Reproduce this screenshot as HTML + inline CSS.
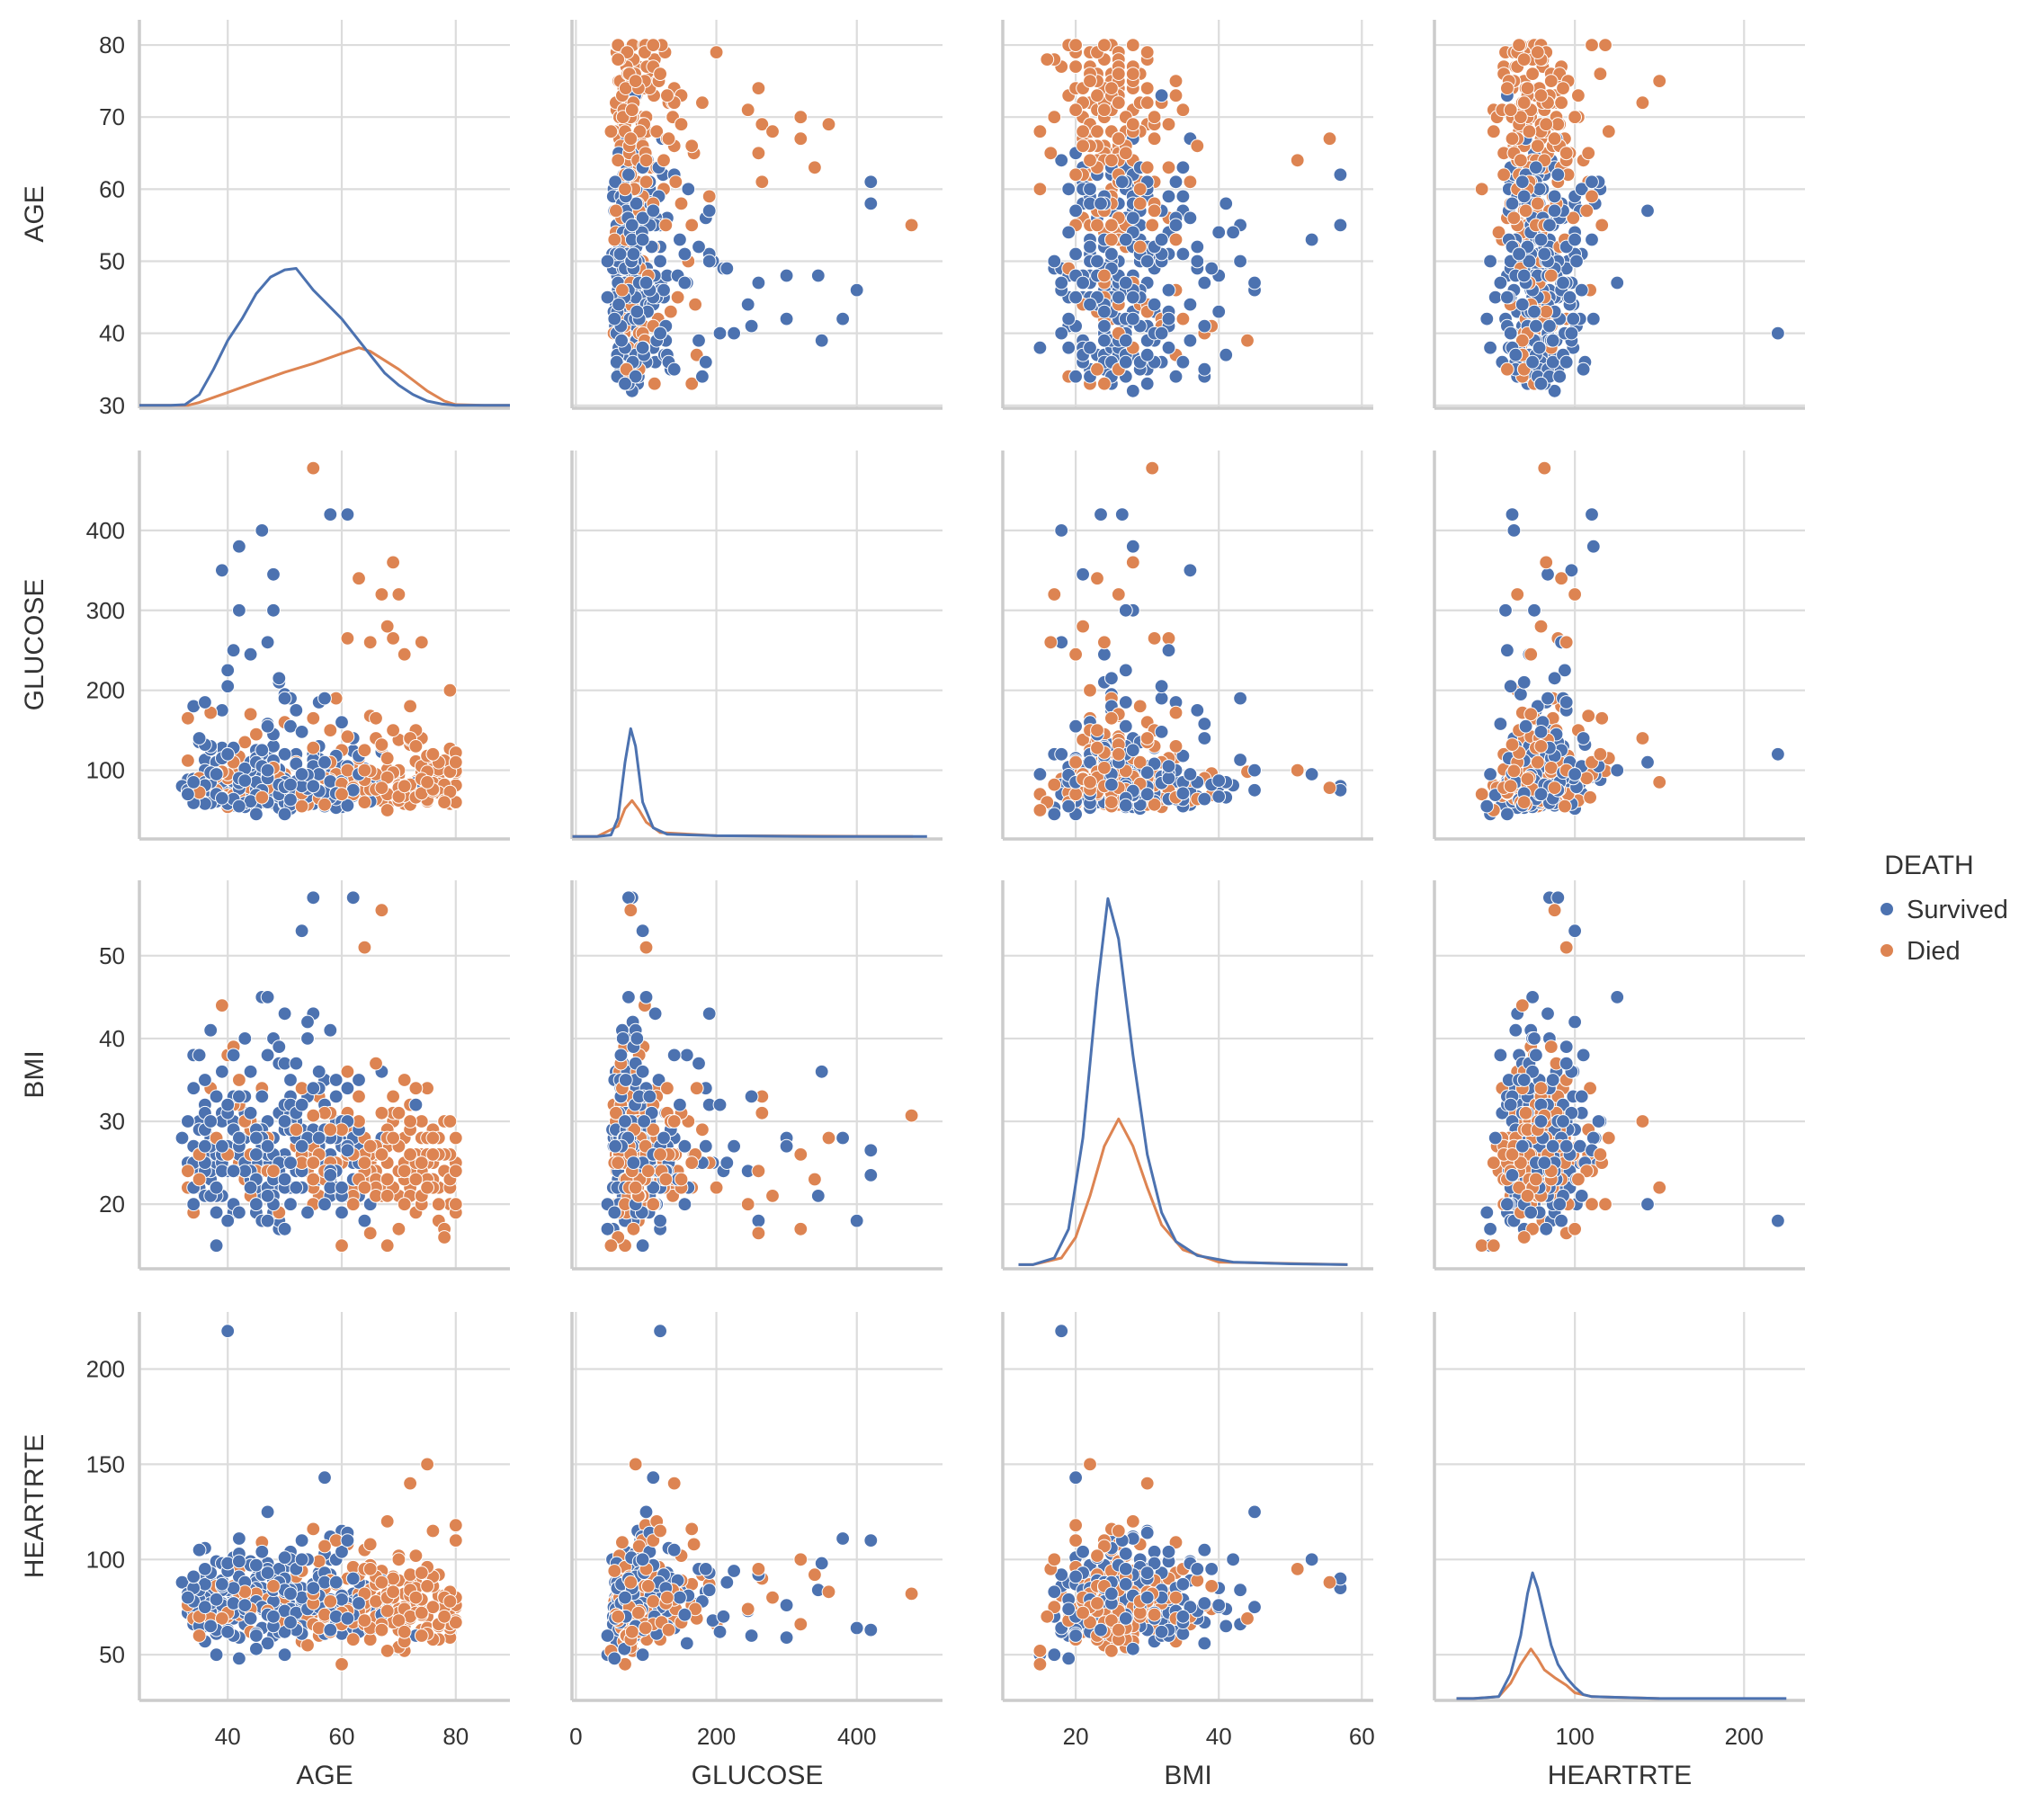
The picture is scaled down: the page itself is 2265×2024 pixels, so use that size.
<!DOCTYPE html>
<html><head><meta charset="utf-8"><style>
body{margin:0;background:#fff}
svg text{font-family:"Liberation Sans","DejaVu Sans",sans-serif;fill:#333}
</style></head><body>
<svg id="chart" width="2265" height="2019" xmlns="http://www.w3.org/2000/svg"></svg>
<script>
const variables=["AGE","GLUCOSE","BMI","HEARTRTE"];
const xDomains=[[24.5,89.5],[-5.6,522],[9.8,61.6],[17,236]];
const yDomains=[[29.6,83.5],[14,500],[12.2,59.1],[26,230]];
const yTicks=[[30,40,50,60,70,80],[100,200,300,400],[20,30,40,50],[50,100,150,200]];
const xTicks=[[40,60,80],[0,200,400],[20,40,60],[100,200]];
const legendLabels=["Survived","Died"];
const colors=["#4c72b0","#dd8452"];

const ageA=[45,52,38,61,70,48,55,42,66,73,36,50,59,44,77,63,40,53,68,47,
35,57,72,49,41,64,58,79,46,54,39,67,51,75,43,60,34,56,71,48,
62,37,53,69,45,78,50,41,65,58,36,74,47,55,44,61,80,52,39,66,
49,57,33,70,46,63,42,76,51,59,38,68,54,45,73,40,62,48,56,35,
67,50,43,71,58,37,64,53,47,79,41,60,55,34,69,46,52,75,44,63,
39,57,49,72,42,66,51,36,61,48,77,45,54,40,65,58,33,70,47,53,
62,38,56,74,44,50,68,41,59,46,80,52,37,64,55,43,71,49,60,35,
57,48,66,42,73,51,39,63,54,45,78,61,47,36,69,53,40,58,50,76,
44,62,38,55,72,48,65,41,57,52,34,67,46,60,74,43,56,50,70,39,
64,47,53,37,79,59,45,68,42,61,51,75,36,55,48,66,40,58,72,44,
63,50,35,69,54,46,77,41,60,52,38,65,49,57,73,43,62,47,56,80,
39,68,53,45,71,58,34,64,50,76,42,59,48,67,37,55,61,46,74,51,
55,58,61,40,55,62,67,64,53,75,33,36,72,57,65,80,47,35,76,70,38,60,45,78,50,68,42,73];
const ageB=[33,41,56,69,47,38,62,75,51,44,35,58,66,49,79,42,54,71,37,60,
46,34,63,52,77,40,57,68,45,36,73,50,61,43,80,55,39,65,48,70,
53,37,74,44,59,67,32,50,78,41,64,47,56,72,35,61,49,76,43,58,
36,69,51,42,66,55,80,39,47,62,34,71,57,45,68,40,53,75,50,63,
44,59,38,73,48,65,54,33,70,46,60,42,77,52,37,67,56,41,74,49,
61,35,57,45,79,50,64,38,53,71,43,58,47,66,36,72,55,40,62,48,
39,54,76,46,63,34,68,51,42,59,74,37,65,49,56,44,80,53,41,70,
52,43,60,35,67,48,57,72,40,55,64,38,50,78,45,62,33,69,47,58,
71,46,39,63,54,36,75,50,44,66,59,41,73,48,35,61,52,68,43,57,
48,62,37,55,70,42,65,51,79,45,34,60,56,47,72,39,64,53,44,67];
const glucoseA=[96,62,75,265,78,87,120,68,140,84,100,160,64,245,101,73,90,92,115,60,
86,75,180,70,110,95,66,200,108,79,350,123,155,63,95,88,72,185,81,300,
74,130,60,97,85,82,195,69,168,90,58,260,78,113,100,142,99,86,175,64,
210,80,165,62,400,118,77,120,73,190,92,115,67,145,84,225,70,104,88,76,
130,89,59,245,94,172,125,71,158,98,63,105,83,180,265,75,120,80,106,90,
66,190,91,79,300,165,57,132,87,345,72,125,81,95,61,150,112,78,260,96,
78,92,65,140,110,85,70,250,95,120,60,110,88,75,100,102,68,82,160,90,
72,130,95,84,66,190,98,340,77,115,62,105,93,85,150,80,58,88,120,74,
170,70,96,105,82,145,76,64,90,108,59,320,125,86,71,135,95,79,67,115,
88,155,55,85,73,118,69,280,90,100,63,98,81,165,112,76,205,86,138,61,
95,79,72,360,94,66,110,128,83,175,70,99,215,57,150,87,78,90,74,122,
65,91,148,110,80,110,85,60,190,76,380,71,103,132,97,128,56,105,89,82,
478,420,420,120,80,75,78,100,95,85,70,185,140,110,260,110,100,140,120,320,95,70,45,60,45,50,55,130];
const glucoseB=[88,56,95,68,121,80,72,61,84,104,75,66,91,83,58,117,70,78,96,65,
60,82,107,74,89,54,100,69,77,93,111,63,86,72,81,67,128,76,59,94,
85,66,98,57,119,71,80,95,62,87,102,68,75,132,64,90,53,109,73,79,
113,70,61,88,83,58,97,74,66,124,89,63,105,78,55,92,81,116,69,84,
77,99,60,86,110,65,94,72,138,80,54,91,83,71,126,62,97,76,68,101,
62,75,88,95,70,58,82,110,66,78,54,90,102,73,85,64,96,120,68,80,
76,57,84,99,115,63,92,71,87,60,105,74,81,67,130,93,59,77,86,100,
72,65,125,79,91,108,55,83,69,74,97,61,89,112,56,140,75,94,70,82,
58,103,66,85,78,92,118,60,77,88,53,96,71,84,135,67,80,101,63,87,
98,74,59,106,81,69,90,52,127,76,64,93,114,70,57,86,79,62,99,73];
const bmiA=[25,28,22,31,24,19,27,35,23,26,21,30,33,24,20,29,38,25,22,27,
26,23,29,18,32,25,41,22,27,24,36,28,20,26,23,30,19,34,25,28,
21,27,24,33,29,17,25,39,26,22,31,24,28,43,23,26,20,30,25,37,
24,29,22,27,18,35,26,23,30,25,21,28,40,24,32,27,23,19,26,29,
31,22,25,20,28,34,24,26,38,23,29,21,27,25,33,45,22,28,24,30,
26,32,19,24,27,22,29,25,36,21,28,23,42,26,20,31,24,27,18,25,
23,28,26,30,22,37,25,33,24,27,19,29,21,26,34,24,28,39,22,26,
29,24,21,27,25,32,44,23,28,20,26,30,24,35,22,27,31,25,17,28,
26,20,33,25,29,23,27,38,24,31,22,26,28,19,25,30,36,23,27,24,
22,27,25,41,30,24,28,21,33,26,35,23,29,25,20,27,32,24,26,31,
25,30,23,28,19,34,26,24,29,37,22,27,25,31,23,40,26,21,28,24,
27,23,32,26,24,29,20,25,43,22,28,35,24,26,30,23,27,33,21,25,
30.7,23.5,26.5,18,57,57,55.5,51,53,22,30,27,30,20,16.5,20,45,38,26,17,15,15,20,16,17,15,19,34];
const bmiB=[24,27,21,30,25,19,28,23,33,26,22,29,24,31,20,27,25,35,23,28,
26,22,29,24,18,32,25,27,21,30,23,26,34,24,28,20,31,25,22,27,
29,23,26,36,24,21,28,25,30,19,27,24,33,22,26,29,17,25,31,23,
25,28,22,32,24,27,20,30,26,23,38,25,28,21,29,24,26,34,22,27,
23,30,25,19,28,26,33,24,21,29,27,25,22,31,24,36,26,20,28,25,
27,24,31,22,26,29,18,25,34,23,28,21,30,26,24,32,22,27,25,40,
21,26,29,24,33,27,22,31,25,28,20,26,24,37,23,29,25,22,30,27,
28,25,22,30,26,24,35,21,27,29,23,26,32,24,19,28,25,31,22,26,
24,29,26,21,28,32,25,23,30,27,22,39,24,26,29,21,27,25,33,23,
26,22,28,25,31,24,20,29,26,23,34,25,27,22,30,24,28,26,21,36];
const heartrteA=[75,82,68,90,72,60,78,95,70,85,65,80,100,73,58,88,76,110,67,79,
84,70,92,62,77,105,74,66,81,55,98,71,87,64,78,115,69,83,52,76,
90,73,61,80,96,75,68,86,108,72,57,93,79,66,84,74,118,63,77,89,
70,85,76,102,64,79,91,58,73,87,67,120,75,82,60,94,71,78,99,65,
80,62,88,74,112,69,77,95,56,83,72,104,66,78,90,75,85,61,97,73,
76,93,68,81,59,87,74,106,70,84,65,78,100,72,63,89,80,54,92,77,
71,86,64,79,97,73,82,60,110,75,68,91,77,66,85,74,57,95,81,70,
88,65,78,103,72,84,69,92,76,61,80,114,73,87,67,79,98,62,83,75,
74,96,63,81,70,89,58,77,107,72,85,66,92,79,60,83,75,101,68,86,
82,71,94,65,78,88,53,80,99,73,67,86,75,116,70,91,62,78,84,69,
77,90,60,83,74,109,66,85,72,95,79,64,88,71,102,76,58,93,81,67,
87,73,80,97,62,78,91,68,84,75,111,70,86,63,93,77,69,104,72,82,
82,63,110,220,85,90,88,95,100,150,80,95,140,143,95,110,125,105,115,100,50,45,60,70,50,52,48,80];
const heartrteB=[72,80,66,88,75,61,94,70,78,84,68,100,74,82,59,90,76,65,86,73,
79,69,92,64,81,74,103,71,87,66,77,96,62,83,75,70,89,58,80,73,
85,67,78,99,72,63,88,76,81,69,95,74,60,84,77,108,70,86,66,79,
74,91,68,80,64,87,76,71,98,82,67,75,89,62,78,84,70,93,73,65,
81,76,63,88,72,97,69,80,74,85,61,79,92,70,83,66,75,101,71,78,
68,84,77,90,64,73,86,79,57,82,75,70,95,67,80,88,72,63,78,85,
76,69,91,74,82,66,79,104,71,87,63,76,84,69,93,73,80,65,77,89,
83,72,66,79,94,75,61,86,70,81,78,99,68,74,88,64,82,71,77,92,
70,85,75,62,80,73,96,68,79,87,66,74,83,71,90,77,64,81,72,86,
79,67,88,74,63,82,76,100,70,85,73,66,91,78,69,84,75,80,62,89];
const deathA=[0,0,1,1,1,0,0,1,1,1,0,1,0,0,1,0,1,0,1,0,
0,1,1,0,1,1,0,1,0,1,0,0,0,1,1,0,1,0,1,0,
1,0,0,1,0,1,0,1,1,0,0,1,1,0,0,1,1,0,0,1,
0,1,1,1,0,0,0,1,0,1,0,1,0,1,0,0,1,0,1,0,
1,0,0,1,0,1,1,1,0,1,0,0,1,0,1,0,0,1,0,1,
0,0,1,1,0,1,0,0,1,0,1,0,0,1,0,1,1,1,0,0,
0,1,1,1,0,0,1,0,1,0,1,1,0,1,0,0,1,0,0,1,
0,0,1,0,1,0,1,1,0,0,1,0,1,0,1,0,0,1,0,1,
1,1,0,0,1,0,1,0,1,0,0,1,0,0,1,1,0,0,1,0,
1,0,1,0,1,0,0,1,0,1,0,1,0,1,0,1,0,0,1,0,
0,0,1,1,0,1,1,0,1,0,0,1,0,1,1,0,1,0,0,1,
0,1,0,0,1,1,0,1,0,1,0,0,1,1,0,1,0,0,1,0,
1,0,0,0,0,0,1,1,0,1,0,0,1,0,1,1,0,0,1,1,0,1,0,1,0,1,0,1];
const deathB=[0,0,1,1,0,0,1,1,0,0,0,0,1,0,1,1,0,1,0,0,
0,0,1,0,1,1,0,1,0,0,1,0,0,0,1,1,0,1,0,1,
0,0,1,0,0,1,0,1,1,0,0,0,1,1,0,1,0,1,0,0,
0,1,0,1,1,0,1,0,0,0,0,1,0,0,1,0,1,1,0,0,
1,0,0,1,0,1,0,0,1,0,0,1,1,0,0,1,0,0,1,0,
1,0,1,0,1,0,0,0,1,1,0,0,0,1,0,1,1,0,0,0,
0,1,1,0,1,0,0,0,1,0,1,0,1,0,0,1,1,0,0,1,
0,0,1,0,1,0,0,1,1,0,1,0,0,1,0,0,0,1,1,0,
1,0,0,0,1,0,1,0,1,0,0,1,1,0,0,0,1,1,0,0,
0,1,0,0,1,1,0,0,1,0,0,1,0,0,1,0,1,0,1,0];
const age=ageB.concat(ageA), glucose=glucoseB.concat(glucoseA), bmi=bmiB.concat(bmiA), heartrte=heartrteB.concat(heartrteA), death=deathB.concat(deathA);
const columns=[age,glucose,bmi,heartrte];

const kdeX=[[24.5,30,32.5,35,37.5,40,42.5,45,47.5,50,52,55,57.5,60,62.5,65,67.5,70,72.5,75,77.5,80,85,89.5],
 [-5,30,50,60,70,78,85,95,110,130,200,350,500],
 [12,14,17,19,21,23,24.5,26,28,30,32,34,37,42,50,58],
 [30,40,55,62,68,72,75,78,82,86,90,95,100,105,110,150,225]];
const kdeSurvived=[[30,30,30.1,31.5,35,39,42,45.5,47.8,48.8,49,46,44,42,39.5,37,34.5,32.8,31.5,30.6,30.2,30,30,30],
 [17,17,19,40,110,152,130,60,28,20,18,17,17],
 [12.7,12.7,13.5,17,28,46,56.9,52,38,26,19,15.5,13.8,13,12.8,12.7],
 [27,27,28,40,60,82,93,85,70,55,45,38,33,29,28,27,27]];
const kdeXDied=[[24.5,30,33,35,40,45,50,55,60,63,65,70,75,78,80,85,89.5],
 [-5,30,60,70,80,90,100,120,200,480],
 [12,14,18,20,22,24,26,28,30,32,35,40,58],
 [30,40,55,62,68,74,78,82,88,95,100,110,150]];
const kdeDied=[[30,30,30,30.4,31.8,33.2,34.6,35.8,37.2,38,37.5,35,32,30.6,30.1,30,30],
 [17,17,30,52,62,50,35,22,18,17],
 [12.7,12.7,13.5,16,21,27,30.3,27,22,17.5,14.5,13,12.7],
 [27,27,28,35,45,53,48,42,38,34,30,28,27]];

const svg=document.getElementById('chart');
const NS='http://www.w3.org/2000/svg';
const lefts=[155,636,1115,1595], tops=[22,501,979,1459], W=412, H=432;
function mk(tag,attrs,parent){const e=document.createElementNS(NS,tag);for(const k in attrs)e.setAttribute(k,attrs[k]);(parent||svg).appendChild(e);return e;}
function xs(c,v){const d=xDomains[c];return lefts[c]+(v-d[0])/(d[1]-d[0])*W;}
function ys(r,v){const d=yDomains[r];return tops[r]+H-(v-d[0])/(d[1]-d[0])*H;}

for(let r=0;r<4;r++){for(let c=0;c<4;c++){
  const g=mk('g',{});
  
  
  const L=lefts[c],T=tops[r];
  xTicks[c].forEach(t=>{const x=xs(c,t);const l=mk('line',{x1:x,x2:x,y1:T,y2:T+H,stroke:'#dcdcdc','stroke-width':2.2},g);});
  yTicks[r].forEach(t=>{const y=ys(r,t);const l=mk('line',{x1:L,x2:L+W,y1:y,y2:y,stroke:'#dcdcdc','stroke-width':2.2},g);});
  const sp1=mk('line',{x1:L,x2:L,y1:T,y2:T+H,stroke:'#cccccc','stroke-width':3.5},g);
  
  const sp2=mk('line',{x1:L,x2:L+W,y1:T+H,y2:T+H,stroke:'#cccccc','stroke-width':3.5},g);
  
  if(r===c){
    const draw=(xa,ya,col,nm)=>{let d='';xa.forEach((xv,i)=>{d+=(i?'L':'M')+xs(c,xv).toFixed(1)+','+ys(r,ya[i]).toFixed(1);});
      const p=mk('path',{d:d,fill:'none',stroke:col,'stroke-width':3,'stroke-linejoin':'round'},g);
      };
    draw(kdeXDied[c],kdeDied[c],colors[1],'kde-died');
    draw(kdeX[c],kdeSurvived[c],colors[0],'kde-survived');
  } else {
    const xv=columns[c], yv=columns[r];
    for(let i=0;i<xv.length;i++){
      const p=mk('circle',{cx:xs(c,xv[i]).toFixed(1),cy:ys(r,yv[i]).toFixed(1),r:7.4,fill:colors[death[i]],stroke:'#fff','stroke-width':1},g);
      
      
    }
  }
  if(c===0){
    yTicks[r].forEach(t=>{const tx=mk('text',{x:L-16,y:ys(r,t)+9,'text-anchor':'end','font-size':26},g);tx.textContent=t;});
    const cy=T+H/2;
    const yl=mk('text',{x:0,y:0,transform:'translate(48,'+cy+') rotate(-90)','text-anchor':'middle','font-size':30},g);
    yl.textContent=variables[r];
  }
  if(r===3){
    xTicks[c].forEach(t=>{const tx=mk('text',{x:xs(c,t),y:1940,'text-anchor':'middle','font-size':26},g);tx.textContent=t;});
    const xl=mk('text',{x:L+W/2,y:1984,'text-anchor':'middle','font-size':30},g);
    xl.textContent=variables[c];
  }
}}
const lg=mk('g',{});


const lt=mk('text',{x:2145,y:972,'text-anchor':'middle','font-size':30},lg);
lt.textContent='DEATH';
legendLabels.forEach((s,i)=>{
  const y=1011+i*46;
  const c=mk('circle',{cx:2098,cy:y,r:7.5,fill:colors[i],stroke:'#fff','stroke-width':1},lg);
  
  const t=mk('text',{x:2120,y:y+10,'font-size':29},lg);t.textContent=s;
  
});
</script>
</body></html>
